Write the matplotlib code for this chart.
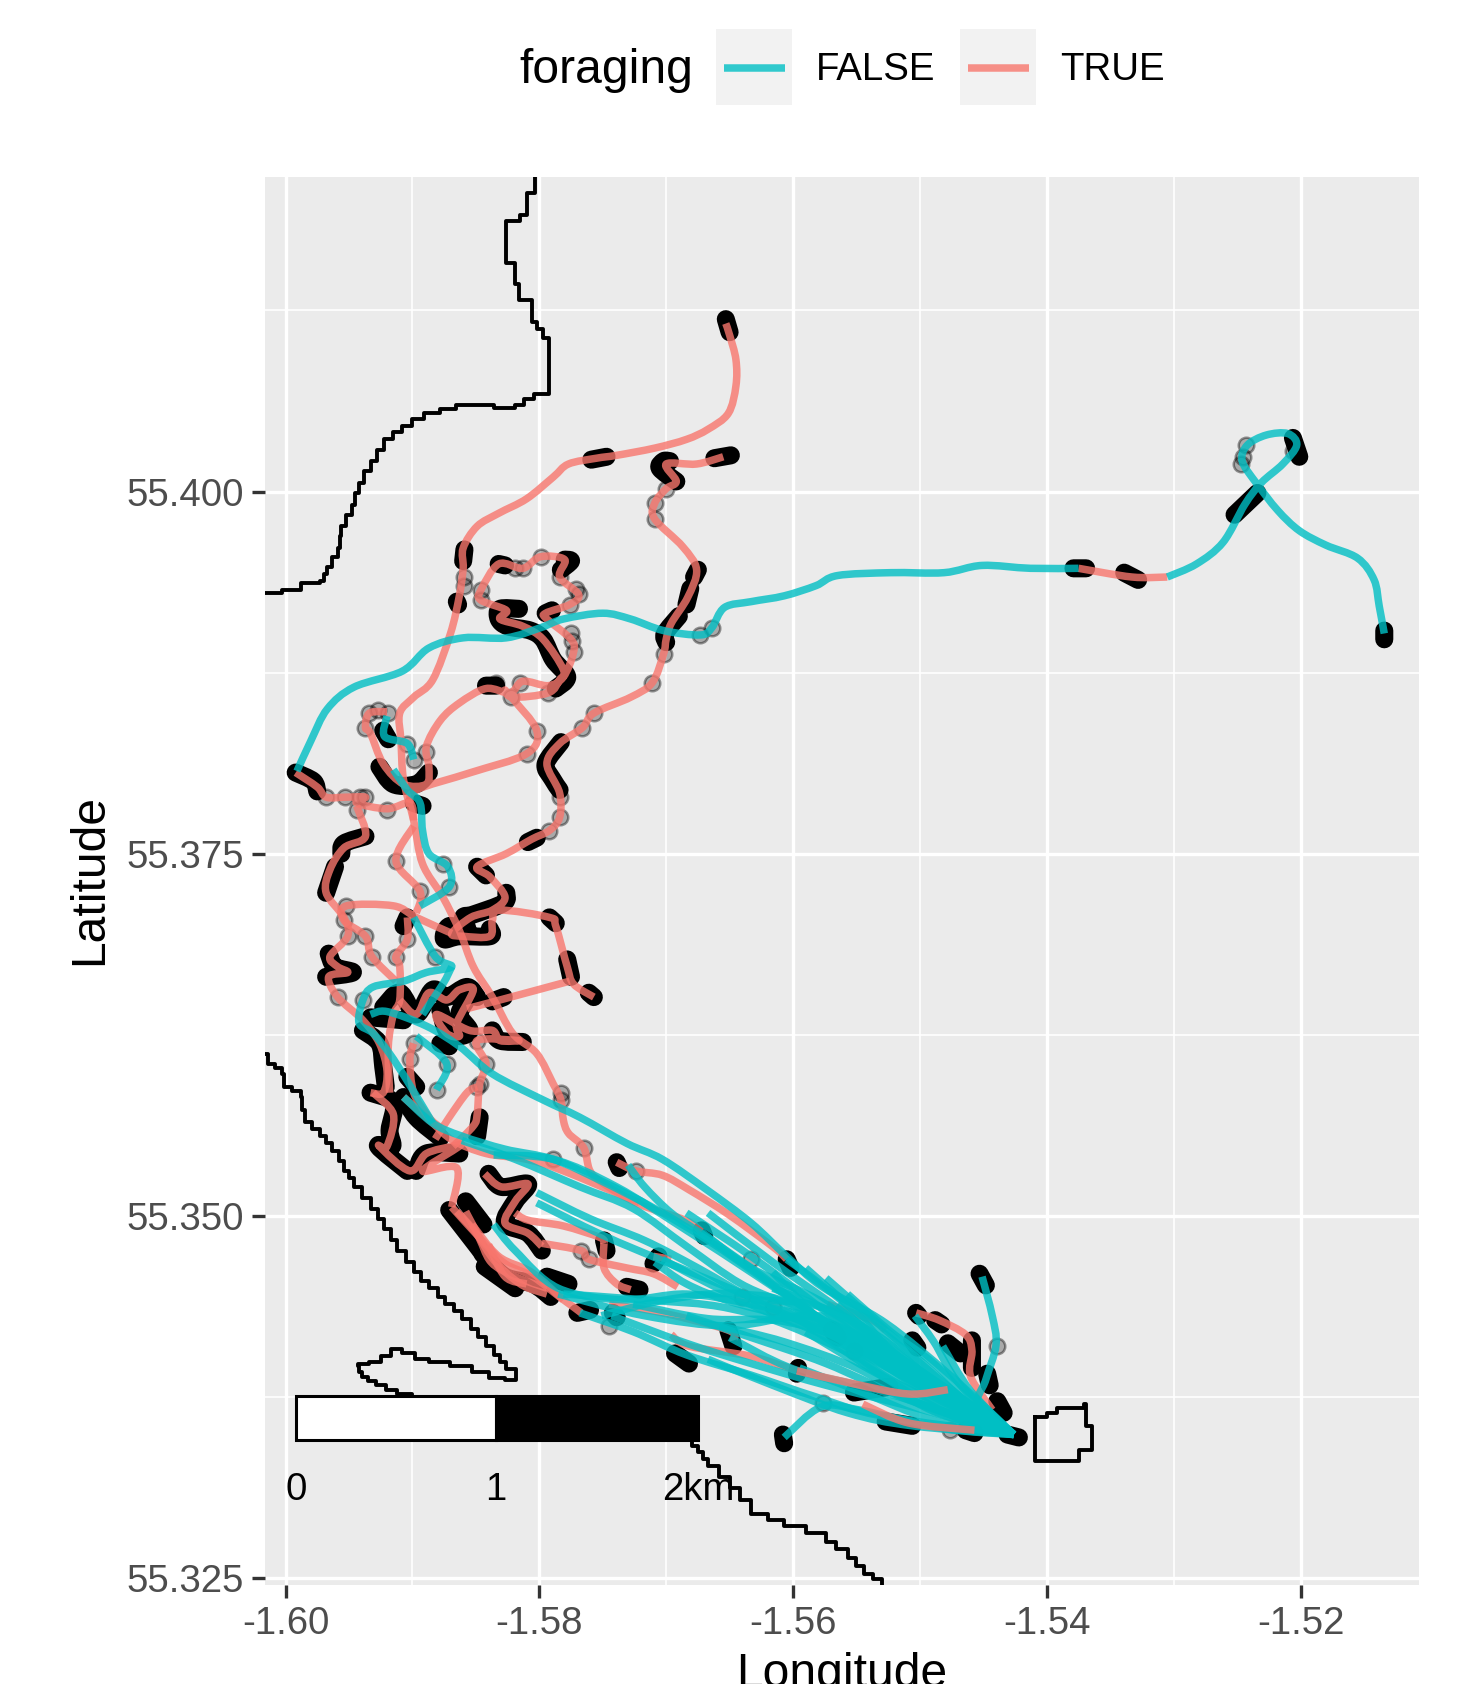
import matplotlib
matplotlib.use('Agg')
import numpy as np
import matplotlib.pyplot as plt
from matplotlib.lines import Line2D
from matplotlib.patches import PathPatch, Rectangle
from matplotlib.path import Path

plt.rcParams['font.family'] = ['Liberation Sans', 'DejaVu Sans']

### Coast outlines
coast_north = [(-1.6016,55.3930),(-1.6003,55.3932),(-1.5988,55.3937),(-1.5973,55.3938),(-1.5970,55.3943),(-1.5967,55.3948),(-1.5963,55.3955),(-1.5959,55.3961),(-1.5957,55.3969),(-1.5956,55.3976),(-1.5952,55.3984),(-1.5948,55.3991),(-1.5945,55.3999),(-1.5942,55.4006),(-1.5938,55.4014),(-1.5933,55.4021),(-1.5928,55.4029),(-1.5922,55.4036),(-1.5915,55.4041),(-1.5908,55.4045),(-1.5900,55.4050),(-1.5891,55.4054),(-1.5878,55.4057),(-1.5866,55.4060),(-1.5836,55.4058),(-1.5819,55.4060),(-1.5812,55.4064),(-1.5804,55.4067),(-1.5792,55.4071),(-1.5792,55.4106),(-1.5797,55.4112),(-1.5802,55.4117),(-1.5806,55.4132),(-1.5816,55.4143),(-1.5819,55.4158),(-1.5826,55.4162),(-1.5826,55.4187),(-1.5815,55.4191),(-1.5810,55.4206),(-1.5803,55.4217)]
coast_south = [(-1.6016,55.3612),(-1.6014,55.3605),(-1.6008,55.3602),(-1.6003,55.3598),(-1.6001,55.3589),(-1.5995,55.3586),(-1.5988,55.3582),(-1.5987,55.3573),(-1.5985,55.3565),(-1.5979,55.3560),(-1.5973,55.3555),(-1.5968,55.3550),(-1.5963,55.3545),(-1.5958,55.3538),(-1.5954,55.3531),(-1.5950,55.3526),(-1.5946,55.3520),(-1.5940,55.3512),(-1.5933,55.3505),(-1.5927,55.3498),(-1.5922,55.3491),(-1.5917,55.3483),(-1.5912,55.3476),(-1.5905,55.3468),(-1.5899,55.3461),(-1.5893,55.3455),(-1.5887,55.3450),(-1.5880,55.3444),(-1.5874,55.3439),(-1.5867,55.3434),(-1.5861,55.3429),(-1.5854,55.3422),(-1.5848,55.3416),(-1.5842,55.3410),(-1.5836,55.3404),(-1.5831,55.3399),(-1.5826,55.3394),(-1.5818,55.3387),(-1.5827,55.3388),(-1.5840,55.3392),(-1.5853,55.3396),(-1.5870,55.3399),(-1.5887,55.3401),(-1.5898,55.3405),(-1.5908,55.3408),(-1.5917,55.3403),(-1.5925,55.3399),(-1.5934,55.3398),(-1.5943,55.3396),(-1.5942,55.3392),(-1.5940,55.3389),(-1.5935,55.3386),(-1.5929,55.3383),(-1.5921,55.3380),(-1.5912,55.3377),(-1.5900,55.3370),(-1.5684,55.3346),(-1.5680,55.3341),(-1.5675,55.3337),(-1.5671,55.3332),(-1.5667,55.3327),(-1.5658,55.3320),(-1.5650,55.3312),(-1.5642,55.3304),(-1.5633,55.3294),(-1.5620,55.3290),(-1.5607,55.3286),(-1.5590,55.3281),(-1.5574,55.3275),(-1.5566,55.3270),(-1.5557,55.3264),(-1.5550,55.3258),(-1.5544,55.3253),(-1.5537,55.3249),(-1.5530,55.3245)]
island = [(-1.5409,55.3361),(-1.5400,55.3364),(-1.5392,55.3367),(-1.5371,55.3370),(-1.5369,55.3355),(-1.5364,55.3352),(-1.5364,55.3338),(-1.5375,55.3331),(-1.5392,55.3331),(-1.5409,55.3338),(-1.5409,55.3361)]

colony = (-1.5426, 55.3349)

### Path sections where foraging is TRUE
foraging_true = [
    [(-1.5653,55.4116),(-1.5650,55.4108),(-1.5645,55.4091),(-1.5645,55.4073),(-1.5651,55.4054),(-1.5667,55.4043),(-1.5684,55.4036),(-1.5709,55.4030),(-1.5739,55.4025),(-1.5755,55.4023),(-1.5777,55.4019),(-1.5789,55.4010),(-1.5810,55.3995),(-1.5832,55.3985),(-1.5849,55.3976),(-1.5860,55.3961),(-1.5860,55.3947),(-1.5863,55.3928),(-1.5870,55.3902),(-1.5884,55.3870),(-1.5899,55.3858),(-1.5910,55.3847),(-1.5909,55.3828),(-1.5907,55.3801),(-1.5899,55.3773),(-1.5892,55.3743),(-1.5876,55.3720),(-1.5863,55.3697),(-1.5852,55.3672),(-1.5837,55.3651),(-1.5821,55.3626),(-1.5802,55.3612),(-1.5789,55.3591),(-1.5783,55.3580),(-1.5781,55.3566),(-1.5777,55.3557),(-1.5765,55.3547),(-1.5760,55.3531),(-1.5749,55.3522),(-1.5721,55.3508),(-1.5685,55.3497),(-1.5672,55.3489)],
    [(-1.5739,55.3537),(-1.5724,55.3531),(-1.5703,55.3528),(-1.5682,55.3518),(-1.5651,55.3501),(-1.5615,55.3478),(-1.5605,55.3470)],
    [(-1.5819,55.3502),(-1.5809,55.3497),(-1.5781,55.3493),(-1.5752,55.3485),(-1.5749,55.3481)],
    [(-1.5798,55.3481),(-1.5767,55.3476),(-1.5761,55.3470),(-1.5731,55.3464),(-1.5710,55.3460),(-1.5691,55.3451)],
    [(-1.5749,55.3481),(-1.5749,55.3464),(-1.5739,55.3453),(-1.5728,55.3449)],
    [(-1.5710,55.3472),(-1.5696,55.3470)],
    [(-1.5745,55.3439),(-1.5703,55.3433),(-1.5651,55.3421),(-1.5647,55.3414)],
    [(-1.5696,55.3418),(-1.5682,55.3410),(-1.5633,55.3403),(-1.5597,55.3393)],
    [(-1.5503,55.3433),(-1.5485,55.3428),(-1.5464,55.3418),(-1.5459,55.3407),(-1.5460,55.3389),(-1.5443,55.3366)],
    [(-1.5573,55.3439),(-1.5538,55.3428),(-1.5527,55.3421)],
    [(-1.5869,55.3506),(-1.5843,55.3481),(-1.5827,55.3467),(-1.5805,55.3458),(-1.5784,55.3444),(-1.5773,55.3437),(-1.5767,55.3433)],
    [(-1.5858,55.3503),(-1.5838,55.3472),(-1.5815,55.3453),(-1.5794,55.3446)],
    [(-1.5865,55.3503),(-1.5849,55.3487),(-1.5838,55.3468),(-1.5819,55.3458),(-1.5794,55.3450)],
    [(-1.5853,55.3494),(-1.5832,55.3472),(-1.5806,55.3461),(-1.5781,55.3442)],
    [(-1.5840,55.3480),(-1.5827,55.3458),(-1.5810,55.3453)],
    [(-1.5655,55.4024),(-1.5676,55.4019),(-1.5700,55.4019),(-1.5692,55.4007),(-1.5700,55.4002),(-1.5709,55.3992),(-1.5709,55.3981),(-1.5687,55.3962),(-1.5676,55.3946),(-1.5683,55.3927),(-1.5696,55.3909),(-1.5700,55.3898),(-1.5702,55.3888),(-1.5711,55.3868),(-1.5728,55.3858),(-1.5757,55.3847),(-1.5766,55.3837),(-1.5784,55.3826),(-1.5794,55.3812),(-1.5784,55.3792),(-1.5784,55.3775),(-1.5792,55.3766),(-1.5806,55.3760),(-1.5826,55.3750),(-1.5849,55.3741),(-1.5839,55.3734),(-1.5827,55.3720),(-1.5837,55.3711),(-1.5854,55.3706),(-1.5869,55.3695),(-1.5860,55.3693),(-1.5839,55.3693),(-1.5837,55.3704),(-1.5831,55.3711),(-1.5792,55.3706),(-1.5787,55.3700),(-1.5778,55.3672),(-1.5773,55.3660),(-1.5757,55.3651)],
    [(-1.5776,55.3662),(-1.5831,55.3649),(-1.5857,55.3643)],
    [(-1.5869,55.3695),(-1.5897,55.3706),(-1.5915,55.3714),(-1.5952,55.3714),(-1.5954,55.3704),(-1.5937,55.3693),(-1.5932,55.3679),(-1.5913,55.3662)],
    [(-1.5992,55.3806),(-1.5975,55.3796),(-1.5968,55.3789),(-1.5953,55.3789),(-1.5937,55.3789),(-1.5944,55.3785),(-1.5920,55.3781),(-1.5902,55.3785),(-1.5899,55.3773)],
    [(-1.5944,55.3783),(-1.5937,55.3762),(-1.5954,55.3754),(-1.5965,55.3739),(-1.5968,55.3723),(-1.5954,55.3706),(-1.5951,55.3693),(-1.5965,55.3679),(-1.5959,55.3672),(-1.5951,55.3668),(-1.5966,55.3665),(-1.5959,55.3651),(-1.5939,55.3635),(-1.5926,55.3619),(-1.5920,55.3600),(-1.5923,55.3585),(-1.5933,55.3585)],
    [(-1.5920,55.3848),(-1.5934,55.3847),(-1.5937,55.3837),(-1.5933,55.3833),(-1.5923,55.3812),(-1.5907,55.3798),(-1.5889,55.3798),(-1.5887,55.3810),(-1.5889,55.3824),(-1.5878,55.3842),(-1.5863,55.3854),(-1.5842,55.3864),(-1.5823,55.3861),(-1.5813,55.3869),(-1.5793,55.3866),(-1.5781,55.3872),(-1.5773,55.3889),(-1.5775,55.3898),(-1.5794,55.3912),(-1.5795,55.3916),(-1.5776,55.3922),(-1.5769,55.3929),(-1.5784,55.3941),(-1.5780,55.3953),(-1.5799,55.3955),(-1.5813,55.3947),(-1.5832,55.3950),(-1.5846,55.3932),(-1.5846,55.3925),(-1.5826,55.3918),(-1.5831,55.3912),(-1.5813,55.3907),(-1.5797,55.3898),(-1.5781,55.3877),(-1.5784,55.3870),(-1.5793,55.3861),(-1.5821,55.3858),(-1.5827,55.3863),(-1.5822,55.3858),(-1.5802,55.3835),(-1.5810,55.3819),(-1.5854,55.3806),(-1.5897,55.3794),(-1.5902,55.3785)],
    [(-1.5899,55.3769),(-1.5913,55.3745),(-1.5894,55.3724),(-1.5897,55.3709)],
    [(-1.5904,55.3706),(-1.5904,55.3691),(-1.5913,55.3679),(-1.5910,55.3672),(-1.5910,55.3649),(-1.5915,55.3639),(-1.5919,55.3617),(-1.5918,55.3585)],
    [(-1.5910,55.3649),(-1.5897,55.3639),(-1.5887,55.3654),(-1.5873,55.3649),(-1.5863,55.3656),(-1.5852,55.3656),(-1.5865,55.3633),(-1.5863,55.3624),(-1.5873,55.3626),(-1.5881,55.3639),(-1.5855,55.3628),(-1.5837,55.3628),(-1.5831,55.3621),(-1.5816,55.3621),(-1.5849,55.3621),(-1.5842,55.3605),(-1.5847,55.3591),(-1.5849,55.3570),(-1.5852,55.3562),(-1.5868,55.3548)],
    [(-1.5849,55.3589),(-1.5857,55.3585),(-1.5871,55.3568),(-1.5882,55.3553)],
    [(-1.5899,55.3619),(-1.5902,55.3608),(-1.5899,55.3585),(-1.5887,55.3568),(-1.5878,55.3561)],
    [(-1.5931,55.3585),(-1.5915,55.3570),(-1.5920,55.3548),(-1.5926,55.3548),(-1.5902,55.3531),(-1.5889,55.3543),(-1.5868,55.3548),(-1.5863,55.3548),(-1.5892,55.3531),(-1.5865,55.3533),(-1.5869,55.3506)],
    [(-1.5907,55.3582),(-1.5884,55.3564),(-1.5868,55.3552),(-1.5842,55.3543),(-1.5810,55.3539),(-1.5781,55.3531),(-1.5721,55.3509)],
    [(-1.5843,55.3529),(-1.5830,55.3520),(-1.5809,55.3522),(-1.5819,55.3510),(-1.5827,55.3495),(-1.5809,55.3488),(-1.5798,55.3479)],
    [(-1.5305,55.3941),(-1.5333,55.3941),(-1.5375,55.3947)],
]

### these salmon bits show over the teal fan
foraging_over = [
    [(-1.5597,55.3393),(-1.5552,55.3384),(-1.5509,55.3377),(-1.5478,55.3380)],
    [(-1.5545,55.3370),(-1.5509,55.3357),(-1.5457,55.3352)],
]

### Path sections where foraging is FALSE
foraging_false = [
    [(-1.5134,55.3902),(-1.5138,55.3921),(-1.5142,55.3939),(-1.5155,55.3954),(-1.5180,55.3963),(-1.5201,55.3973),(-1.5218,55.3987),(-1.5235,55.4006),(-1.5246,55.4021),(-1.5242,55.4032),(-1.5227,55.4039),(-1.5210,55.4040),(-1.5203,55.4032),(-1.5214,55.4019),(-1.5231,55.4006),(-1.5244,55.3991),(-1.5261,55.3965),(-1.5282,55.3950),(-1.5305,55.3941)],
    [(-1.5375,55.3947),(-1.5413,55.3947),(-1.5451,55.3949),(-1.5481,55.3944),(-1.5523,55.3944),(-1.5565,55.3942),(-1.5582,55.3935),(-1.5607,55.3928),(-1.5633,55.3924),(-1.5654,55.3920),(-1.5664,55.3906),(-1.5673,55.3901),(-1.5702,55.3904),(-1.5728,55.3912),(-1.5750,55.3916),(-1.5781,55.3912),(-1.5799,55.3906),(-1.5826,55.3899),(-1.5860,55.3899),(-1.5887,55.3892),(-1.5908,55.3876),(-1.5946,55.3865),(-1.5967,55.3850),(-1.5980,55.3828),(-1.5991,55.3807)],
    [(-1.5920,55.3845),(-1.5922,55.3831),(-1.5904,55.3826),(-1.5899,55.3815)],
    [(-1.5915,55.3808),(-1.5904,55.3794),(-1.5894,55.3785),(-1.5892,55.3766),(-1.5887,55.3750),(-1.5872,55.3741),(-1.5871,55.3727),(-1.5894,55.3714)],
    [(-1.5899,55.3706),(-1.5882,55.3679),(-1.5869,55.3672),(-1.5889,55.3668),(-1.5907,55.3662),(-1.5931,55.3658),(-1.5939,55.3649),(-1.5942,55.3633),(-1.5931,55.3626),(-1.5918,55.3612),(-1.5904,55.3593),(-1.5884,55.3564)],
    [(-1.5869,55.3672),(-1.5876,55.3660),(-1.5892,55.3639)],
    [(-1.5933,55.3639),(-1.5920,55.3641),(-1.5889,55.3631),(-1.5863,55.3617),(-1.5837,55.3598),(-1.5797,55.3580),(-1.5768,55.3568),(-1.5731,55.3550),(-1.5703,55.3539),(-1.5668,55.3518),(-1.5633,55.3495),(-1.5605,55.3472),(-1.5577,55.3451),(-1.5527,55.3426),(-1.5475,55.3389),colony],
    [(-1.5897,55.3624),(-1.5873,55.3605),(-1.5881,55.3587)],
    [(-1.5907,55.3582),(-1.5884,55.3564),(-1.5861,55.3555),(-1.5827,55.3546),(-1.5789,55.3539),(-1.5751,55.3524),(-1.5709,55.3505),(-1.5667,55.3483),(-1.5624,55.3457),(-1.5582,55.3431),(-1.5531,55.3401),(-1.5480,55.3372),colony],
    [(-1.5861,55.3552),(-1.5819,55.3539),(-1.5768,55.3520),(-1.5726,55.3505),(-1.5684,55.3479),(-1.5641,55.3453),(-1.5595,55.3435),(-1.5548,55.3409),(-1.5489,55.3375),colony],
    [(-1.5836,55.3542),(-1.5789,55.3539),(-1.5739,55.3520),(-1.5684,55.3490),(-1.5633,55.3461),(-1.5582,55.3431),(-1.5523,55.3394),colony],
    [(-1.5802,55.3516),(-1.5760,55.3498),(-1.5717,55.3483),(-1.5675,55.3464),(-1.5624,55.3439),(-1.5557,55.3413),(-1.5497,55.3383),colony],
    [(-1.5730,55.3535),(-1.5717,55.3520),(-1.5696,55.3502),(-1.5671,55.3487),(-1.5633,55.3464),(-1.5595,55.3439),(-1.5540,55.3405),colony],
    [(-1.5709,55.3468),(-1.5684,55.3453),(-1.5650,55.3441),(-1.5607,55.3431),(-1.5557,55.3420),(-1.5506,55.3394),colony],
    [(-1.5836,55.3494),(-1.5819,55.3476),(-1.5785,55.3450),(-1.5734,55.3442),(-1.5684,55.3446),(-1.5633,55.3439),(-1.5574,55.3427),(-1.5514,55.3401),colony],
    [(-1.5785,55.3446),(-1.5717,55.3431),(-1.5650,55.3424),(-1.5590,55.3431),(-1.5548,55.3420),colony],
    [(-1.5768,55.3433),(-1.5726,55.3420),(-1.5684,55.3404),(-1.5633,55.3390),(-1.5582,55.3375),(-1.5531,55.3362),colony],
    [(-1.5743,55.3431),(-1.5684,55.3412),(-1.5633,55.3398),(-1.5574,55.3383),(-1.5506,55.3368),colony],
    [(-1.5726,55.3439),(-1.5667,55.3429),(-1.5607,55.3427),(-1.5548,55.3409),colony],
    [(-1.5667,55.3401),(-1.5616,55.3383),(-1.5557,55.3364),(-1.5506,55.3355),colony],
    [(-1.5650,55.3416),(-1.5599,55.3394),(-1.5531,55.3379),colony],
    [(-1.5605,55.3470),(-1.5574,55.3450),(-1.5548,55.3431),(-1.5514,55.3401),colony],
    [(-1.5672,55.3489),(-1.5633,55.3464),(-1.5574,55.3439),(-1.5514,55.3401),colony],
    [(-1.5607,55.3347),(-1.5578,55.3368),(-1.5548,55.3366),(-1.5480,55.3353),colony],
    [(-1.5451,55.3458),(-1.5443,55.3431),(-1.5440,55.3411),(-1.5448,55.3387),(-1.5454,55.3368),colony],
    [(-1.5504,55.3431),(-1.5489,55.3413),(-1.5468,55.3383),colony],
    [(-1.5482,55.3410),(-1.5460,55.3379),colony],
    [(-1.5703,55.3470),(-1.5675,55.3457),(-1.5624,55.3435),(-1.5565,55.3413),colony],
    [(-1.5595,55.3395),(-1.5548,55.3379),(-1.5489,55.3359),colony],
    [(-1.5574,55.3420),(-1.5523,55.3405),(-1.5464,55.3368),colony],
    [(-1.5565,55.3439),(-1.5514,55.3398),(-1.5464,55.3364),colony],
    [(-1.5599,55.3431),(-1.5531,55.3390),(-1.5472,55.3361),colony],
    [(-1.5684,55.3502),(-1.5633,55.3472),(-1.5582,55.3439),(-1.5531,55.3405),(-1.5480,55.3375),colony],
    [(-1.5667,55.3502),(-1.5616,55.3468),(-1.5569,55.3439),(-1.5523,55.3409),(-1.5472,55.3375),colony],
    [(-1.5633,55.3442),(-1.5582,55.3438),(-1.5531,55.3416),(-1.5480,55.3379),colony],
    [(-1.5616,55.3450),(-1.5565,55.3431),(-1.5514,55.3394),(-1.5472,55.3368),colony],
    [(-1.5590,55.3464),(-1.5557,55.3439),(-1.5514,55.3409),(-1.5468,55.3375),colony],
    [(-1.5574,55.3457),(-1.5540,55.3431),(-1.5497,55.3398),(-1.5464,55.3372),colony],
    [(-1.5616,55.3461),(-1.5574,55.3424),(-1.5523,55.3387),colony],
    [(-1.5557,55.3446),(-1.5523,55.3420),(-1.5489,55.3398),(-1.5455,55.3368),colony],
    [(-1.5590,55.3420),(-1.5540,55.3394),(-1.5489,55.3372),colony],
    [(-1.5658,55.3424),(-1.5607,55.3413),(-1.5548,55.3394),(-1.5489,55.3365),colony],
    [(-1.5684,55.3431),(-1.5633,55.3416),(-1.5574,55.3398),(-1.5506,55.3372),colony],
    [(-1.5523,55.3379),(-1.5480,55.3364),(-1.5447,55.3357),colony],
    [(-1.5802,55.3509),(-1.5751,55.3487),(-1.5700,55.3468),(-1.5650,55.3450),(-1.5590,55.3427),colony],
    [(-1.5751,55.3431),(-1.5700,55.3442),(-1.5641,55.3446),(-1.5582,55.3431),colony],
    [(-1.5781,55.3446),(-1.5717,55.3442),(-1.5650,55.3436),(-1.5582,55.3416),colony],
]

### Runs of close GPS fixes, these read as solid black
dense_fixes = [
    [(-1.5653,55.4119),(-1.5650,55.4110)],
    [(-1.5759,55.4022),(-1.5747,55.4024)],
    [(-1.5697,55.4021),(-1.5702,55.4021),(-1.5705,55.4016),(-1.5692,55.4007)],
    [(-1.5662,55.4023),(-1.5649,55.4025)],
    [(-1.5859,55.3960),(-1.5860,55.3952)],
    [(-1.5865,55.3924),(-1.5864,55.3922)],
    [(-1.5832,55.3950),(-1.5827,55.3949)],
    [(-1.5780,55.3953),(-1.5775,55.3952),(-1.5783,55.3946)],
    [(-1.5795,55.3916),(-1.5790,55.3918)],
    [(-1.5816,55.3919),(-1.5831,55.3919),(-1.5832,55.3912),(-1.5825,55.3907),(-1.5807,55.3904),(-1.5797,55.3898),(-1.5789,55.3884),(-1.5778,55.3872),(-1.5787,55.3864)],
    [(-1.5842,55.3866),(-1.5834,55.3866)],
    [(-1.5675,55.3946),(-1.5678,55.3941)],
    [(-1.5681,55.3933),(-1.5684,55.3922)],
    [(-1.5690,55.3914),(-1.5701,55.3902),(-1.5700,55.3896)],
    [(-1.5783,55.3827),(-1.5795,55.3812),(-1.5790,55.3802),(-1.5784,55.3794)],
    [(-1.5809,55.3758),(-1.5802,55.3761)],
    [(-1.5849,55.3741),(-1.5842,55.3735)],
    [(-1.5826,55.3723),(-1.5828,55.3716),(-1.5852,55.3708),(-1.5860,55.3706),(-1.5857,55.3697),(-1.5871,55.3700),(-1.5875,55.3691),(-1.5863,55.3693),(-1.5839,55.3693),(-1.5839,55.3698)],
    [(-1.5792,55.3706),(-1.5787,55.3702)],
    [(-1.5778,55.3677),(-1.5775,55.3665)],
    [(-1.5761,55.3654),(-1.5757,55.3651)],
    [(-1.5828,55.3651),(-1.5837,55.3648)],
    [(-1.5992,55.3806),(-1.5978,55.3800),(-1.5975,55.3793)],
    [(-1.5926,55.3810),(-1.5915,55.3798),(-1.5897,55.3798),(-1.5887,55.3806)],
    [(-1.5923,55.3835),(-1.5919,55.3829)],
    [(-1.5899,55.3785),(-1.5892,55.3783)],
    [(-1.5937,55.3762),(-1.5954,55.3757),(-1.5956,55.3750)],
    [(-1.5961,55.3741),(-1.5968,55.3723)],
    [(-1.5904,55.3706),(-1.5907,55.3700)],
    [(-1.5966,55.3681),(-1.5961,55.3672),(-1.5947,55.3668),(-1.5968,55.3665)],
    [(-1.5933,55.3637),(-1.5907,55.3635)],
    [(-1.5923,55.3644),(-1.5910,55.3654),(-1.5897,55.3639),(-1.5884,55.3656),(-1.5873,55.3651),(-1.5857,55.3658),(-1.5849,55.3651)],
    [(-1.5878,55.3642),(-1.5873,55.3628),(-1.5863,55.3624),(-1.5855,55.3628),(-1.5863,55.3639),(-1.5857,55.3651),(-1.5868,55.3652)],
    [(-1.5878,55.3619),(-1.5871,55.3617)],
    [(-1.5837,55.3628),(-1.5831,55.3621),(-1.5813,55.3620)],
    [(-1.5939,55.3628),(-1.5926,55.3619),(-1.5923,55.3603),(-1.5921,55.3589)],
    [(-1.5933,55.3585),(-1.5915,55.3578),(-1.5918,55.3559),(-1.5916,55.3548),(-1.5927,55.3548),(-1.5904,55.3531)],
    [(-1.5907,55.3582),(-1.5897,55.3568),(-1.5878,55.3554)],
    [(-1.5847,55.3568),(-1.5849,55.3555)],
    [(-1.5904,55.3596),(-1.5897,55.3589)],
    [(-1.5863,55.3543),(-1.5889,55.3543),(-1.5897,55.3531)],
    [(-1.5840,55.3529),(-1.5830,55.3520),(-1.5809,55.3522),(-1.5819,55.3510),(-1.5827,55.3495),(-1.5809,55.3488),(-1.5798,55.3476)],
    [(-1.5871,55.3504),(-1.5848,55.3478),(-1.5843,55.3472),(-1.5827,55.3458),(-1.5805,55.3453),(-1.5791,55.3444)],
    [(-1.5858,55.3510),(-1.5844,55.3494)],
    [(-1.5843,55.3465),(-1.5819,55.3450)],
    [(-1.5794,55.3458),(-1.5777,55.3453)],
    [(-1.5770,55.3433),(-1.5760,55.3435)],
    [(-1.5742,55.3433),(-1.5739,55.3430)],
    [(-1.5739,55.3537),(-1.5737,55.3533)],
    [(-1.5749,55.3483),(-1.5747,55.3476)],
    [(-1.5706,55.3472),(-1.5710,55.3467)],
    [(-1.5731,55.3451),(-1.5721,55.3449)],
    [(-1.5672,55.3490),(-1.5670,55.3486)],
    [(-1.5605,55.3470),(-1.5602,55.3464)],
    [(-1.5651,55.3421),(-1.5647,55.3410)],
    [(-1.5693,55.3405),(-1.5682,55.3398)],
    [(-1.5596,55.3395),(-1.5597,55.3391)],
    [(-1.5569,55.3421),(-1.5565,55.3416)],
    [(-1.5453,55.3460),(-1.5448,55.3452)],
    [(-1.5503,55.3433),(-1.5501,55.3431)],
    [(-1.5488,55.3428),(-1.5483,55.3425)],
    [(-1.5506,55.3414),(-1.5502,55.3409)],
    [(-1.5478,55.3412),(-1.5468,55.3405)],
    [(-1.5459,55.3414),(-1.5459,55.3395)],
    [(-1.5447,55.3391),(-1.5445,55.3383)],
    [(-1.5439,55.3372),(-1.5434,55.3364)],
    [(-1.5431,55.3349),(-1.5422,55.3347)],
    [(-1.5608,55.3349),(-1.5607,55.3343)],
    [(-1.5552,55.3378),(-1.5524,55.3382)],
    [(-1.5527,55.3358),(-1.5506,55.3355)],
    [(-1.5464,55.3352),(-1.5457,55.3350)],
    [(-1.5134,55.3904),(-1.5134,55.3898)],
    [(-1.5379,55.3947),(-1.5369,55.3947)],
    [(-1.5339,55.3944),(-1.5328,55.3939)],
    [(-1.5252,55.3984),(-1.5234,55.3999)],
    [(-1.5206,55.4037),(-1.5201,55.4024)],
]

### Single GPS fixes, these read as grey rings
single_lon = [-1.5245,-1.5243,-1.5247,-1.5206,-1.5673,-1.5664,-1.5700,-1.5709,-1.5709,-1.5702,-1.5711,-1.5757,-1.5766,-1.5859,-1.5859,-1.5846,-1.5846,-1.5813,-1.5819,-1.5799,-1.5776,-1.5769,-1.5771,-1.5784,-1.5773,-1.5774,-1.5775,-1.5793,-1.5822,-1.5815,-1.5834,-1.5802,-1.5810,-1.5934,-1.5937,-1.5927,-1.5919,-1.5904,-1.5899,-1.5889,-1.5968,-1.5953,-1.5941,-1.5937,-1.5944,-1.5920,-1.5913,-1.5876,-1.5871,-1.5784,-1.5784,-1.5792,-1.5894,-1.5952,-1.5954,-1.5951,-1.5937,-1.5932,-1.5959,-1.5939,-1.5904,-1.5913,-1.5882,-1.5899,-1.5902,-1.5873,-1.5881,-1.5849,-1.5847,-1.5842,-1.5849,-1.5783,-1.5783,-1.5765,-1.5789,-1.5724,-1.5767,-1.5761,-1.5633,-1.5640,-1.5616,-1.5552,-1.5576,-1.5439,-1.5476,-1.5745]
single_lat = [55.4024,55.4032,55.4019,55.4028,55.3901,55.3906,55.4002,55.3992,55.3981,55.3888,55.3868,55.3847,55.3837,55.3941,55.3935,55.3932,55.3925,55.3947,55.3947,55.3955,55.3922,55.3929,55.3933,55.3941,55.3889,55.3897,55.3902,55.3861,55.3858,55.3868,55.3868,55.3835,55.3819,55.3847,55.3837,55.3849,55.3847,55.3826,55.3815,55.3820,55.3789,55.3789,55.3789,55.3789,55.3780,55.3780,55.3745,55.3743,55.3727,55.3789,55.3775,55.3766,55.3724,55.3714,55.3704,55.3693,55.3693,55.3679,55.3651,55.3649,55.3691,55.3679,55.3679,55.3619,55.3608,55.3605,55.3587,55.3589,55.3591,55.3605,55.3621,55.3585,55.3580,55.3547,55.3539,55.3531,55.3476,55.3470,55.3470,55.3444,55.3437,55.3407,55.3371,55.3410,55.3352,55.3424]

### Scale bar
bar_lon = [-1.59915, -1.5834, -1.5675]
bar_lat = [55.3345, 55.33754]
bar_labels = ['0', '1', '2km']
bar_label_lat = 55.3311

x_major = [-1.60, -1.58, -1.56, -1.54, -1.52]
x_minor = [-1.59, -1.57, -1.55, -1.53]
y_major = [55.325, 55.350, 55.375, 55.400]
y_minor = [55.3375, 55.3625, 55.3875, 55.4125]
x_labels = ['-1.60', '-1.58', '-1.56', '-1.54', '-1.52']
y_labels = ['55.325', '55.350', '55.375', '55.400']

TEAL = '#00BFC4'
SALMON = '#F8766D'
W, H = 1368.0, 1568.0


def curve(track):
    # bezier through the fixes so the paths do not look like polygons
    p = np.array(track)
    verts = [p[0]]
    codes = [Path.MOVETO]
    for i in range(len(p) - 1):
        a = p[max(i - 1, 0)]
        d = p[min(i + 2, len(p) - 1)]
        verts += [p[i] + (p[i + 1] - a) / 6, p[i + 1] - (d - p[i]) / 6, p[i + 1]]
        codes += [Path.CURVE4, Path.CURVE4, Path.CURVE4]
    return Path(verts, codes)


def add_tracks(ax, tracks, color, alpha, lw, cap, z):
    for track in tracks:
        ax.add_patch(PathPatch(curve(track), fc='none', ec=color, alpha=alpha, lw=lw,
                               capstyle=cap, joinstyle='round', zorder=z))


fig = plt.figure(figsize=(14.69, 16.84), dpi=100)
ax = fig.add_axes([247/W, 1 - 1476/H, (1321 - 247)/W, (1476 - 165)/H])
ax.set_facecolor('#EBEBEB')
for s in ax.spines.values():
    s.set_visible(False)

ax.set_xticks(x_major)
ax.set_xticklabels(x_labels)
ax.set_yticks(y_major)
ax.set_yticklabels(y_labels)
ax.set_xticks(x_minor, minor=True)
ax.set_yticks(y_minor, minor=True)
ax.set_xlim(-1.6016, -1.5107)
ax.set_ylim(55.3245, 55.4217)
ax.tick_params(which='major', length=9.3, width=2.4, color='#333333', labelcolor='#4D4D4D', labelsize=27.6, pad=6)
ax.tick_params(which='minor', length=0)
ax.grid(which='major', color='white', lw=2.4, zorder=0)
ax.grid(which='minor', color='white', lw=1.2, zorder=0)
ax.set_axisbelow(True)

for line in (coast_north, coast_south, island):
    ax.plot([p[0] for p in line], [p[1] for p in line], color='black', lw=2.8,
            drawstyle='steps-post', zorder=1)

### fixes go under the paths
add_tracks(ax, dense_fixes, 'black', 1, 13, 'round', 2)
ax.scatter(single_lon, single_lat, s=125, facecolor=(0, 0, 0, 0.28), edgecolor=(0, 0, 0, 0.4),
           linewidth=1.8, zorder=2)

add_tracks(ax, foraging_true, SALMON, 0.8, 5.4, 'butt', 3)
add_tracks(ax, foraging_false, TEAL, 0.8, 5.4, 'butt', 4)
add_tracks(ax, foraging_over, SALMON, 0.8, 5.4, 'butt', 5)

### Scale bar goes on top of everything
ax.add_patch(Rectangle((bar_lon[0], bar_lat[0]), bar_lon[1] - bar_lon[0], bar_lat[1] - bar_lat[0],
                       fc='white', ec='black', lw=2.2, zorder=6))
ax.add_patch(Rectangle((bar_lon[1], bar_lat[0]), bar_lon[2] - bar_lon[1], bar_lat[1] - bar_lat[0],
                       fc='black', ec='black', lw=2.2, zorder=6))
for lon, lab in zip(bar_lon, bar_labels):
    ax.text(lon, bar_label_lat, lab, fontsize=27.6, ha='center', va='center', color='black', zorder=7)

fig.text(83/W, 1 - 819/H, 'Latitude', rotation=90, fontsize=34.6, ha='center', va='center', color='black')
fig.text(784/W, 1 - 1571/H, 'Longitude', fontsize=34.6, ha='center', va='baseline', color='black')

### Legend on top
fig.text(484/W, 1 - 66/H, 'foraging', fontsize=34.6, ha='left', va='center', color='black')
for x0, col, lab, tx in ((667, TEAL, 'FALSE', 760), (894, SALMON, 'TRUE', 987)):
    fig.add_artist(Rectangle((x0/W, 1 - 98/H), 71/W, 71/H, transform=fig.transFigure, fc='#F2F2F2', ec='none'))
    fig.add_artist(Line2D([(x0 + 7)/W, (x0 + 64)/W], [1 - 63/H, 1 - 63/H], transform=fig.transFigure,
                          color=col, alpha=0.8, lw=5.4, solid_capstyle='butt'))
    fig.text(tx/W, 1 - 65/H, lab, fontsize=27.6, ha='left', va='center', color='black')

fig.savefig('out.png', dpi=100)
